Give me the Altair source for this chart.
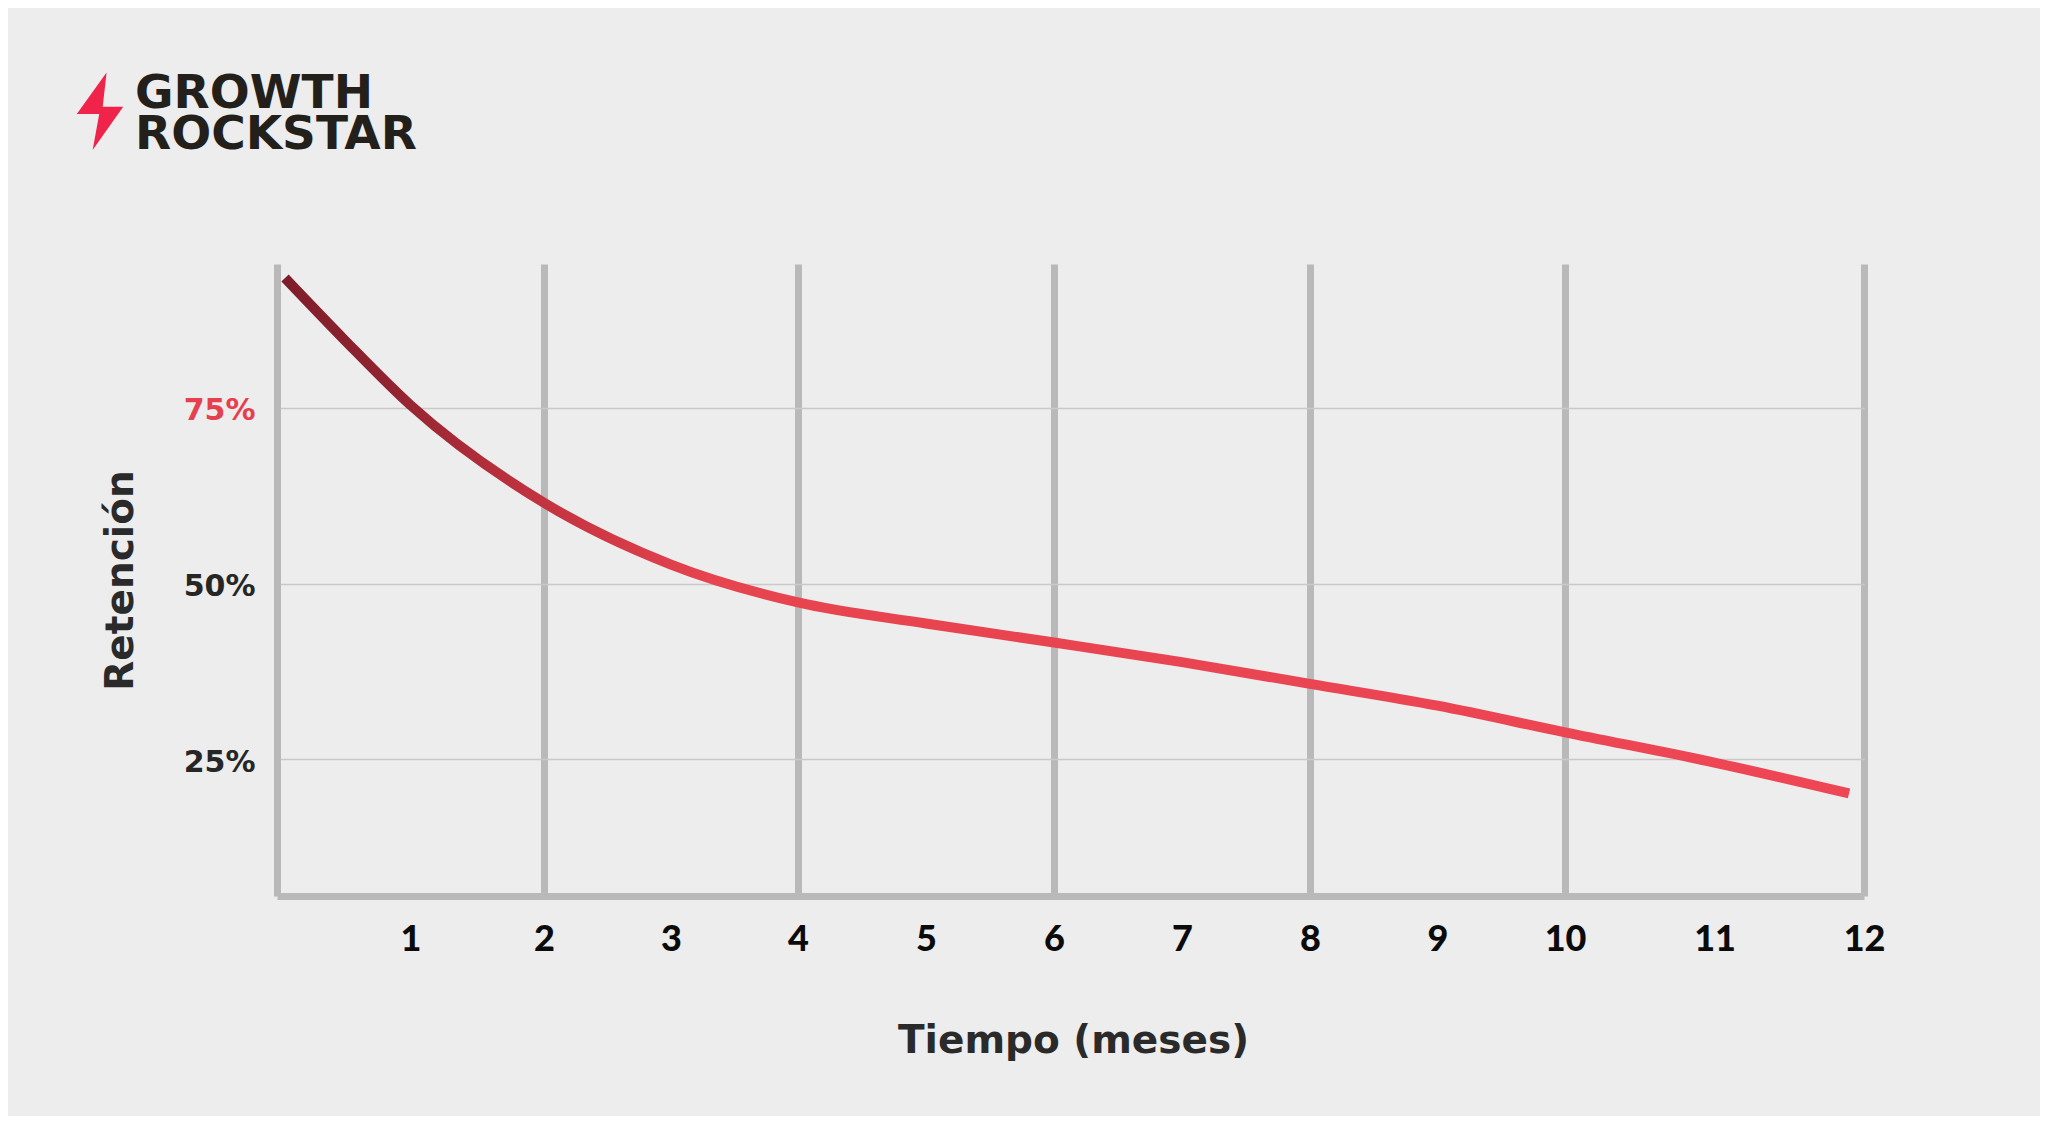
import altair as alt
import pandas as pd

# ---- data ----
months = [0.06, 0.5, 1, 2, 3, 4, 5, 6, 7, 8, 9, 10, 11, 11.9]
retention = [93.5, 84.8, 75.4, 61.5, 52.7, 47.3, 44.3, 41.6, 38.8, 35.7, 32.6, 28.8, 24.5, 20.1]

x_ticks = [1, 2, 3, 4, 5, 6, 7, 8, 9, 10, 11, 12]
y_ticks = [25, 50, 75]
x_title = "Tiempo (meses)"
y_title = "Retención"
logo_lines = ["GROWTH", "ROCKSTAR"]

df = pd.DataFrame({"mes": months, "ret": retention})
one = pd.DataFrame({"k": [0]})

W, H = 1587, 632
BG = "#ededed"
GRID = "#b9b9b9"

x_scale = alt.Scale(domain=[0, 2, 4, 6, 8, 10, 12],
                    range=[0, 267, 521, 777, 1033, 1288, 1587],
                    nice=False, zero=False)
y_scale = alt.Scale(domain=[5.5, 95.5], nice=False, zero=False)

x_axis = alt.Axis(
    values=x_ticks, ticks=False,
    labelFont="Lato", labelFontWeight=900, labelFontSize=36, labelColor="#0b0b0b",
    labelPadding=26, labelFlush=False,
    domainColor=GRID, domainWidth=7,
    grid=True, gridColor=GRID, gridWidth=7,
    gridOpacity={"condition": {"test": "datum.value % 2 === 0", "value": 1}, "value": 0},
    title=x_title, titleFont="DejaVu Sans", titleFontWeight="bold", titleFontSize=39,
    titleColor="#2a2a2a", titleX=796, titleY=156, titleAlign="center",
    titleBaseline="alphabetic",
)
y_axis = alt.Axis(
    values=y_ticks, ticks=False, labelExpr="datum.value + '%'",
    labelFont="DejaVu Sans", labelFontWeight="bold", labelFontSize=30,
    labelColor={"condition": {"test": "datum.value === 75", "value": "#e6404f"}, "value": "#262626"},
    labelPadding=22, labelOffset=3,
    domainColor=GRID, domainWidth=7,
    grid=True, gridColor="#c9c9c9", gridWidth=1.5,
    title=y_title, titleFont="DejaVu Sans", titleFontWeight="bold", titleFontSize=39,
    titleColor="#2a2a2a", titleAngle=270, titleX=-145, titleY=316,
    titleAlign="center", titleBaseline="alphabetic",
)

grad = alt.LinearGradient(
    gradient="linear", x1=0, x2=1, y1=0, y2=0,
    stops=[
        alt.GradientStop(color="#7e1e2a", offset=0),
        alt.GradientStop(color="#932431", offset=0.07),
        alt.GradientStop(color="#bd313e", offset=0.15),
        alt.GradientStop(color="#e6444f", offset=0.27),
        alt.GradientStop(color="#ee4655", offset=1),
    ],
)

line = alt.Chart(df).mark_line(interpolate="monotone", strokeWidth=10, color=grad).encode(
    x=alt.X("mes:Q", scale=x_scale, axis=x_axis),
    y=alt.Y("ret:Q", scale=y_scale, axis=y_axis),
)

bolt_path = "M0.17,-1 L-0.6,0.07 L-0.02,0.07 L-0.19,1 L0.6,-0.12 L0.07,-0.12 Z"
bolt = alt.Chart(one).mark_point(shape=bolt_path, filled=True, size=5990,
                                 color="#f0234b", opacity=1, strokeWidth=0).encode(
    x=alt.value(-177), y=alt.value(-152.7)
)

logo_style = dict(align="left", baseline="alphabetic", font="DejaVu Sans",
                  fontWeight="bold", fontSize=47, color="#231f1a")
logo1 = alt.Chart(one).mark_text(text=logo_lines[0], **logo_style).encode(
    x=alt.value(-142), y=alt.value(-155.7))
logo2 = alt.Chart(one).mark_text(text=logo_lines[1], **logo_style).encode(
    x=alt.value(-142), y=alt.value(-114.7))

chart = alt.layer(line, bolt, logo1, logo2).properties(
    width=W, height=H,
    autosize=alt.AutoSizeParams(type="none"),
    padding={"left": 269, "top": 256, "right": 176, "bottom": 220},
    background=BG,
).configure_view(stroke=None)

chart.save("out.html", embed_options={"renderer": "svg", "actions": False})
